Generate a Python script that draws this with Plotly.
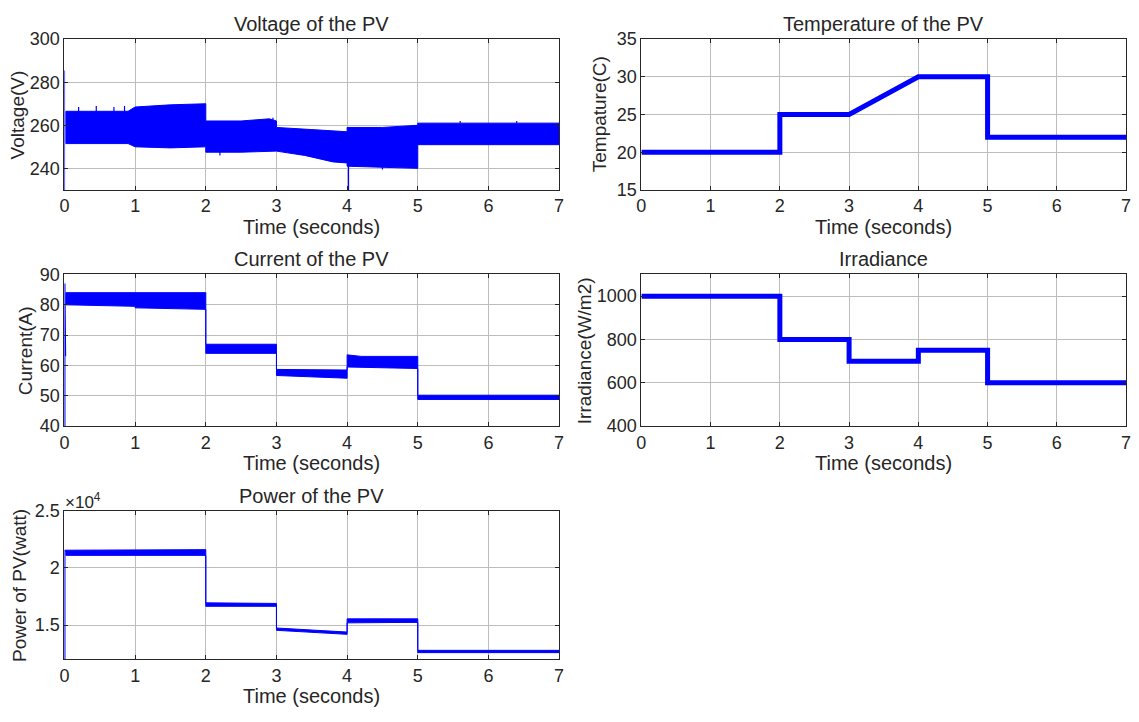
import plotly.graph_objects as go

# ---------------- data ----------------
# Voltage band: upper and lower envelopes
volt_up_t = [0.02, 0.9, 1.0, 1.5, 2.0, 2.0, 2.5, 2.9, 3.0, 3.0, 3.5, 4.0, 4.0, 4.5, 5.0, 5.0, 6.0, 7.0]
volt_up_v = [266.5, 266.5, 268.5, 269.5, 270, 262, 262, 263, 262, 259, 258, 257, 259, 259, 260, 261, 261, 261]
volt_lo_t = [0.02, 0.9, 1.0, 1.5, 2.0, 2.0, 2.5, 3.0, 3.0, 3.4, 3.8, 4.0, 4.0, 4.5, 5.0, 5.0, 6.0, 7.0]
volt_lo_v = [251.5, 251.5, 250, 249.5, 250, 247.5, 247.5, 248, 248, 246, 243, 242.5, 241, 240.5, 240, 251, 251, 251]
# isolated spikes (time, from, to)
volt_spk_t = [0.0, 4.02, 0.2, 0.45, 0.7, 0.85, 2.2, 2.95, 3.7, 4.5, 5.6, 6.4]
volt_spk_a = [230, 243, 266, 266, 266, 266, 248, 262, 257, 242, 261, 261]
volt_spk_b = [285.5, 230, 268.5, 269, 268.5, 269, 246, 263.5, 256, 239.5, 262, 262]

# Temperature
temp_t = [0, 2, 2, 3, 4, 5, 5, 7]
temp_v = [20, 20, 25, 25, 30, 30, 22, 22]

# Current band
curr_up_t = [0.02, 2.0, 2.0, 3.0, 3.0, 4.0, 4.0, 4.2, 5.0, 5.0, 7.0]
curr_up_v = [84, 84, 67, 67, 58.7, 58.5, 63.5, 63, 63, 50.2, 50.2]
curr_lo_t = [0.02, 1.0, 1.0, 2.0, 2.0, 3.0, 3.0, 4.0, 4.0, 5.0, 5.0, 7.0]
curr_lo_v = [80, 79.5, 79, 78.5, 64, 64, 56.7, 55.8, 59.5, 59, 48.8, 48.8]
curr_spike_t = [0.0, 0.0, 0.01, 0.01]
curr_spike_v = [40, 87, 87, 63]

# Irradiance
irr_t = [0, 2, 2, 3, 3, 4, 4, 5, 5, 7]
irr_v = [1000, 1000, 800, 800, 700, 700, 750, 750, 600, 600]

# Power band (watts)
pow_up_t = [0.02, 2.0, 2.0, 3.0, 3.0, 4.0, 4.0, 5.0, 5.0, 7.0]
pow_up_v = [21550, 21600, 16950, 16900, 14750, 14400, 15550, 15550, 12800, 12800]
pow_lo_t = [0.02, 2.0, 2.0, 3.0, 3.0, 4.0, 4.0, 5.0, 5.0, 7.0]
pow_lo_v = [21100, 21100, 16650, 16650, 14550, 14200, 15200, 15250, 12600, 12600]
pow_spike_t = [0.0, 0.0, 0.02]
pow_spike_v = [12000, 21500, 21500]

time_ticks = [0, 1, 2, 3, 4, 5, 6, 7]

# ---------------- styling ----------------
BLUE = "#0000ff"
TXT = "#262626"
FONT = "Liberation Sans, Arial, sans-serif"
GRID = "#bdbdbd"

W, H = 1139, 722
def px_x(p):
    return p / W
def px_y(p):
    return 1 - p / H

XL = [px_x(60), px_x(559)]
XR = [px_x(642), px_x(1131)]
R1 = [px_y(185), px_y(30)]
R2 = [px_y(428), px_y(272)]
R3 = [px_y(668), px_y(515)]

fig = go.Figure()

def band(t_up, v_up, t_lo, v_lo, xa, ya):
    xs = list(t_up) + list(reversed(t_lo))
    ys = list(v_up) + list(reversed(v_lo))
    fig.add_trace(go.Scatter(x=xs + [xs[0]], y=ys + [ys[0]], mode="lines", fill="toself",
                             fillcolor=BLUE, line=dict(color=BLUE, width=1),
                             xaxis=xa, yaxis=ya, showlegend=False, hoverinfo="skip"))

def line(t, v, xa, ya, w):
    fig.add_trace(go.Scatter(x=t, y=v, mode="lines", line=dict(color=BLUE, width=w),
                             xaxis=xa, yaxis=ya, showlegend=False))

def spikes(ts, a, b, xa, ya, w):
    xs, ys = [], []
    for t, y0, y1 in zip(ts, a, b):
        xs += [t, t, None]
        ys += [y0, y1, None]
    line(xs, ys, xa, ya, w)

band(volt_up_t, volt_up_v, volt_lo_t, volt_lo_v, "x", "y")
spikes(volt_spk_t, volt_spk_a, volt_spk_b, "x", "y", 1.2)
line(temp_t, temp_v, "x2", "y2", 5)
band(curr_up_t, curr_up_v, curr_lo_t, curr_lo_v, "x3", "y3")
line(curr_spike_t, curr_spike_v, "x3", "y3", 2)
line(irr_t, irr_v, "x4", "y4", 5)
band(pow_up_t, pow_up_v, pow_lo_t, pow_lo_v, "x5", "y5")
line(pow_spike_t, pow_spike_v, "x5", "y5", 2)

TICKFONT = dict(size=18, color=TXT, family=FONT)
LABFONT = dict(size=20, color=TXT, family=FONT)
YLABFONT = dict(size=19, color=TXT, family=FONT)

def xaxis(dom, anchor):
    return dict(domain=dom, anchor=anchor, range=[0, 7], tickvals=time_ticks,
                showline=True, mirror="ticks", linecolor=TXT, linewidth=1,
                ticks="inside", ticklen=4, tickcolor=TXT,
                showgrid=True, gridcolor=GRID, gridwidth=1, zeroline=False,
                tickfont=TICKFONT)

def yaxis(dom, anchor, rng, ticks, ticktext=None):
    d = dict(domain=dom, anchor=anchor, range=rng, tickvals=ticks,
             showline=True, mirror="ticks", linecolor=TXT, linewidth=1,
             ticks="inside", ticklen=4, tickcolor=TXT,
             showgrid=True, gridcolor=GRID, gridwidth=1, zeroline=False,
             tickfont=TICKFONT)
    if ticktext is not None:
        d["ticktext"] = ticktext
    return d

fig.update_layout(
    width=W, height=H, margin=dict(l=0, r=0, t=0, b=0),
    paper_bgcolor="white", plot_bgcolor="white",
    font=dict(family=FONT, color=TXT),
    xaxis=xaxis(XL, "y"),
    yaxis=yaxis(R1, "x", [230, 300], [240, 260, 280, 300]),
    xaxis2=xaxis(XR, "y2"),
    yaxis2=yaxis(R1, "x2", [15, 35], [15, 20, 25, 30, 35]),
    xaxis3=xaxis(XL, "y3"),
    yaxis3=yaxis(R2, "x3", [40, 90], [40, 50, 60, 70, 80, 90]),
    xaxis4=xaxis(XR, "y4"),
    yaxis4=yaxis(R2, "x4", [400, 1100], [400, 600, 800, 1000]),
    xaxis5=xaxis(XL, "y5"),
    yaxis5=yaxis(R3, "x5", [12000, 25000], [15000, 20000, 25000], ticktext=["1.5", "2", "2.5"]),
)

panels = [("Voltage of the PV", "Voltage(V)", XL, R1, 13),
          ("Temperature of the PV", "Tempature(C)", XR, R1, 600),
          ("Current of the PV", "Current(A)", XL, R2, 20),
          ("Irradiance", "Irradiance(W/m2)", XR, R2, 584),
          ("Power of the PV", "Power of PV(watt)", XL, R3, 14)]
for title, ylab, xd, yd, ylab_x in panels:
    xc = (xd[0] + xd[1]) / 2
    fig.add_annotation(text=title, x=xc, y=yd[1], xref="paper", yref="paper",
                       xanchor="center", yanchor="bottom", yshift=2, showarrow=False,
                       font=LABFONT)
    fig.add_annotation(text="Time (seconds)", x=xc, y=yd[0], xref="paper", yref="paper",
                       xanchor="center", yanchor="middle", yshift=-37, showarrow=False,
                       font=LABFONT)
    fig.add_annotation(text=ylab, x=px_x(ylab_x), y=(yd[0] + yd[1]) / 2, xref="paper", yref="paper",
                       xanchor="center", yanchor="middle", textangle=-90, showarrow=False,
                       font=YLABFONT)

fig.add_annotation(text="×10<sup>4</sup>", x=XL[0], y=R3[1], xref="paper", yref="paper",
                   xanchor="left", yanchor="bottom", xshift=-1, yshift=-3, showarrow=False,
                   font=dict(size=17, color=TXT, family=FONT))

fig.write_html("out.html")
